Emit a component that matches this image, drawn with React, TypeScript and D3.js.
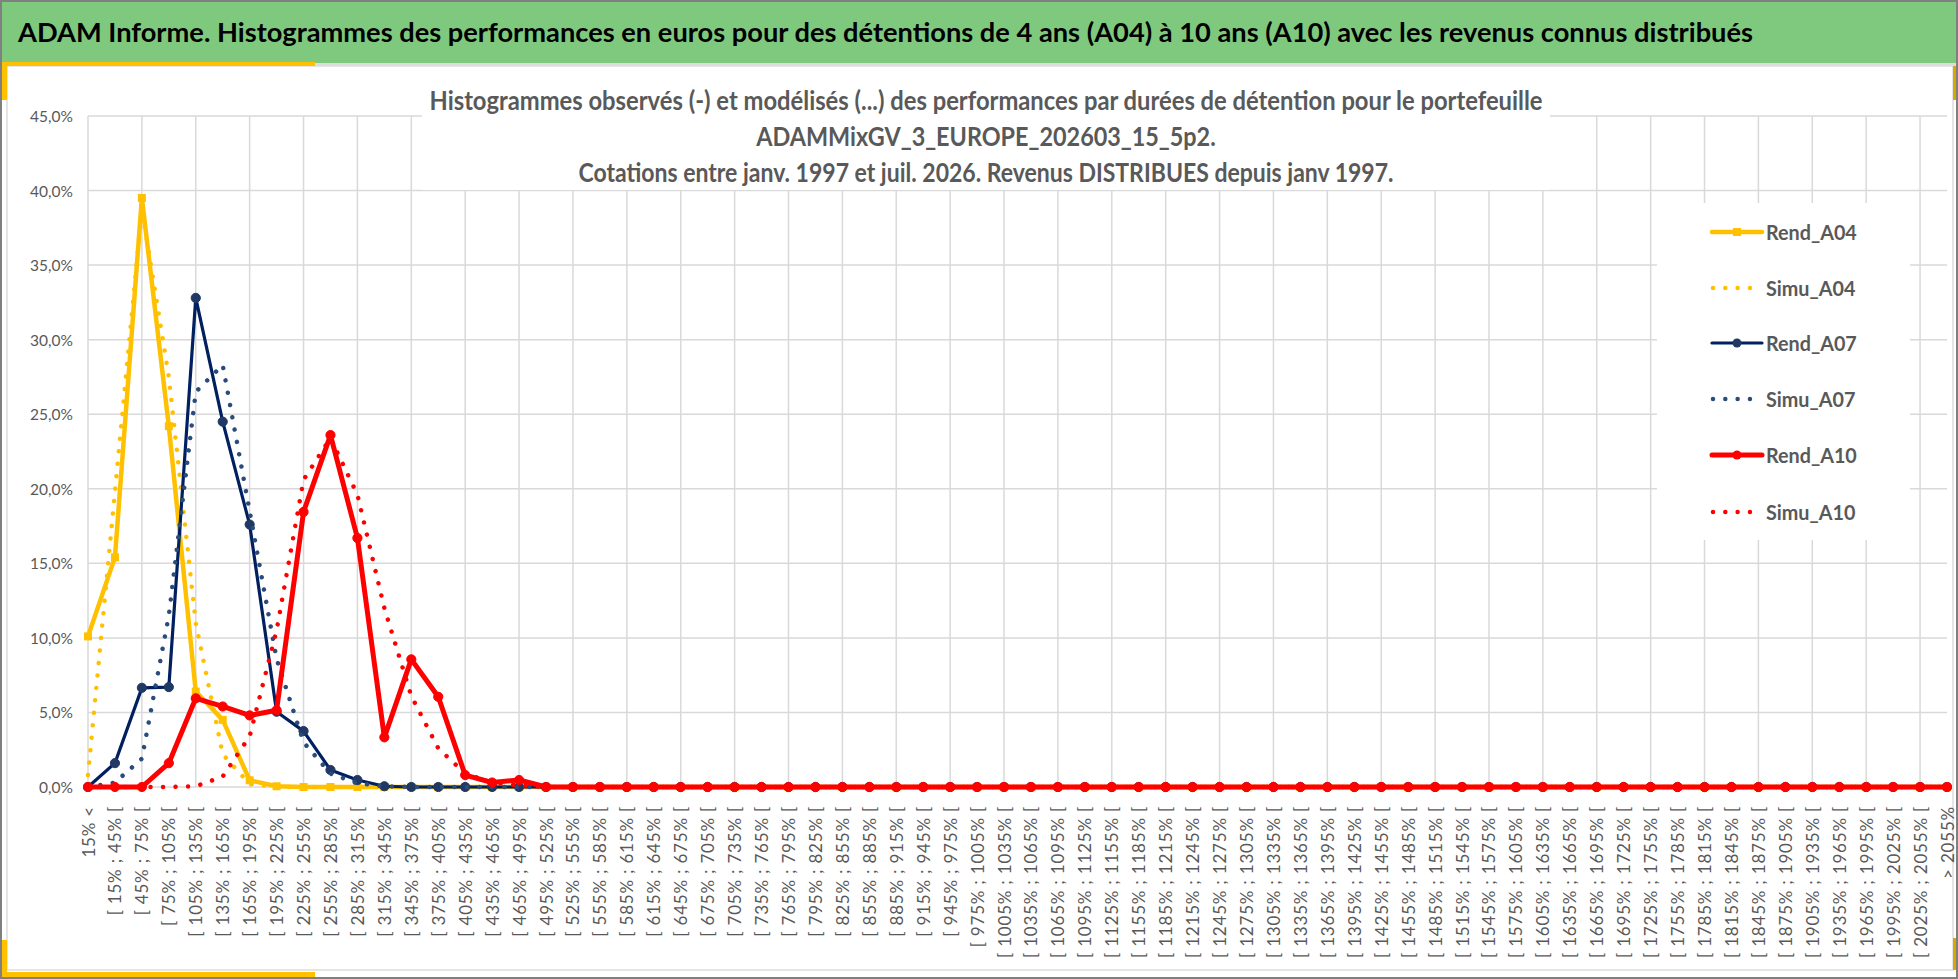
import React from "react";
import * as d3 from "d3";

const categories = [
  "15% <",
  "[ 15% ; 45% [", "[ 45% ; 75% [", "[ 75% ; 105% [", "[ 105% ; 135% [", "[ 135% ; 165% [",
  "[ 165% ; 195% [", "[ 195% ; 225% [", "[ 225% ; 255% [", "[ 255% ; 285% [", "[ 285% ; 315% [",
  "[ 315% ; 345% [", "[ 345% ; 375% [", "[ 375% ; 405% [", "[ 405% ; 435% [", "[ 435% ; 465% [",
  "[ 465% ; 495% [", "[ 495% ; 525% [", "[ 525% ; 555% [", "[ 555% ; 585% [", "[ 585% ; 615% [",
  "[ 615% ; 645% [", "[ 645% ; 675% [", "[ 675% ; 705% [", "[ 705% ; 735% [", "[ 735% ; 765% [",
  "[ 765% ; 795% [", "[ 795% ; 825% [", "[ 825% ; 855% [", "[ 855% ; 885% [", "[ 885% ; 915% [",
  "[ 915% ; 945% [", "[ 945% ; 975% [", "[ 975% ; 1005% [", "[ 1005% ; 1035% [", "[ 1035% ; 1065% [",
  "[ 1065% ; 1095% [", "[ 1095% ; 1125% [", "[ 1125% ; 1155% [", "[ 1155% ; 1185% [", "[ 1185% ; 1215% [",
  "[ 1215% ; 1245% [", "[ 1245% ; 1275% [", "[ 1275% ; 1305% [", "[ 1305% ; 1335% [", "[ 1335% ; 1365% [",
  "[ 1365% ; 1395% [", "[ 1395% ; 1425% [", "[ 1425% ; 1455% [", "[ 1455% ; 1485% [", "[ 1485% ; 1515% [",
  "[ 1515% ; 1545% [", "[ 1545% ; 1575% [", "[ 1575% ; 1605% [", "[ 1605% ; 1635% [", "[ 1635% ; 1665% [",
  "[ 1665% ; 1695% [", "[ 1695% ; 1725% [", "[ 1725% ; 1755% [", "[ 1755% ; 1785% [", "[ 1785% ; 1815% [",
  "[ 1815% ; 1845% [", "[ 1845% ; 1875% [", "[ 1875% ; 1905% [", "[ 1905% ; 1935% [", "[ 1935% ; 1965% [",
  "[ 1965% ; 1995% [", "[ 1995% ; 2025% [", "[ 2025% ; 2055% [",
  "> 2055%",
];

const rendA04 = [
  10.1, 15.4, 39.5, 24.2, 6.4, 4.5, 0.45, 0.05,
  0, 0, 0, 0, 0, 0, 0, 0, 0, 0,
  0, 0, 0, 0, 0, 0, 0, 0, 0, 0,
  0, 0, 0, 0, 0, 0, 0, 0, 0, 0,
  0, 0, 0, 0, 0, 0, 0, 0, 0, 0,
  0, 0, 0, 0, 0, 0, 0, 0, 0, 0,
  0, 0, 0, 0, 0, 0, 0, 0, 0, 0,
  0, 0,
];

const simuA04 = [
  0.8, 19.8, 38.8, 27.5, 11.0, 2.2, 0.2,
  0, 0, 0, 0, 0, 0, 0, 0, 0, 0,
  0, 0, 0, 0, 0, 0, 0, 0, 0, 0,
  0, 0, 0, 0, 0, 0, 0, 0, 0, 0,
  0, 0, 0, 0, 0, 0, 0, 0, 0, 0,
  0, 0, 0, 0, 0, 0, 0, 0, 0, 0,
  0, 0, 0, 0, 0, 0, 0, 0, 0, 0,
  0, 0, 0,
];

const rendA07 = [
  0, 1.6, 6.65, 6.7, 32.8, 24.5, 17.6, 5.05, 3.75, 1.14, 0.47, 0.05,
  0, 0, 0, 0, 0, 0, 0, 0, 0, 0,
  0, 0, 0, 0, 0, 0, 0, 0, 0, 0,
  0, 0, 0, 0, 0, 0, 0, 0, 0, 0,
  0, 0, 0, 0, 0, 0, 0, 0, 0, 0,
  0, 0, 0, 0, 0, 0, 0, 0, 0, 0,
  0, 0, 0, 0, 0, 0, 0, 0,
];

const simuA07 = [
  0, 0.3, 1.9, 11.5, 26.5, 28.3, 18.5, 8.6, 3.0, 0.9, 0.25, 0.05,
  0, 0, 0, 0, 0, 0, 0, 0, 0, 0,
  0, 0, 0, 0, 0, 0, 0, 0, 0, 0,
  0, 0, 0, 0, 0, 0, 0, 0, 0, 0,
  0, 0, 0, 0, 0, 0, 0, 0, 0, 0,
  0, 0, 0, 0, 0, 0, 0, 0, 0, 0,
  0, 0, 0, 0, 0, 0, 0, 0,
];

const rendA10 = [
  0, 0, 0, 1.6, 5.95, 5.4, 4.8, 5.15, 18.45, 23.6, 16.7, 3.33, 8.56, 6.05, 0.8, 0.3, 0.47,
  0, 0, 0, 0, 0, 0, 0, 0, 0, 0,
  0, 0, 0, 0, 0, 0, 0, 0, 0, 0,
  0, 0, 0, 0, 0, 0, 0, 0, 0, 0,
  0, 0, 0, 0, 0, 0, 0, 0, 0, 0,
  0, 0, 0, 0, 0, 0, 0, 0, 0, 0,
  0, 0, 0,
];

const simuA10 = [
  0, 0, 0, 0, 0.05, 0.7, 3.4, 10.5, 20.6, 23.4, 19.6, 12.0, 6.1, 2.6, 0.9, 0.3, 0.1,
  0, 0, 0, 0, 0, 0, 0, 0, 0, 0,
  0, 0, 0, 0, 0, 0, 0, 0, 0, 0,
  0, 0, 0, 0, 0, 0, 0, 0, 0, 0,
  0, 0, 0, 0, 0, 0, 0, 0, 0, 0,
  0, 0, 0, 0, 0, 0, 0, 0, 0, 0,
  0, 0, 0,
];

const yTicks = [0, 5, 10, 15, 20, 25, 30, 35, 40, 45];

const headerTitle =
  "ADAM Informe. Histogrammes des performances en euros pour des détentions de 4 ans (A04) à 10 ans (A10) avec les revenus connus distribués";
const chartTitleLines = [
  "Histogrammes observés (-) et modélisés (...) des performances par durées de détention pour le portefeuille",
  "ADAMMixGV_3_EUROPE_202603_15_5p2.",
  "Cotations  entre janv. 1997 et juil. 2026. Revenus DISTRIBUES depuis janv 1997.",
];

const W = 1958;
const H = 979;
const FONT = "Lato, 'Open Sans', sans-serif";
const GOLD = "#FFC000";
const NAVY = "#002060";
const NAVY_MK = "#203864";
const NAVY_SIM = "#2A4C7C";
const RED = "#FF0000";
const GRID = "#D9D9D9";
const TXT = "#595959";

type Series = {
  name: string;
  values: number[];
  color: string;
  width: number;
  dotted: boolean;
  marker: "square" | "circle" | null;
  markerColor?: string;
};

const series: Series[] = [
  { name: "Rend_A04", values: rendA04, color: GOLD, width: 4.5, dotted: false, marker: "square", markerColor: GOLD },
  { name: "Simu_A04", values: simuA04, color: GOLD, width: 4.5, dotted: true, marker: null },
  { name: "Rend_A07", values: rendA07, color: NAVY, width: 3.2, dotted: false, marker: "circle", markerColor: NAVY_MK },
  { name: "Simu_A07", values: simuA07, color: NAVY_SIM, width: 4.5, dotted: true, marker: null },
  { name: "Rend_A10", values: rendA10, color: RED, width: 5, dotted: false, marker: "circle", markerColor: RED },
  { name: "Simu_A10", values: simuA10, color: RED, width: 4.5, dotted: true, marker: null },
];

const TITLE_SX = 0.9;

export default function App() {
  const x = d3.scalePoint<string>().domain(categories).range([88, 1947]);
  const y = d3.scaleLinear().domain([0, 45]).range([787, 116]);

  const line = d3
    .line<number>()
    .x((_, i) => x(categories[i]) as number)
    .y((d) => y(d));

  const fmt = (v: number) => v.toFixed(1).replace(".", ",") + "%";

  const legendRows = [232, 288, 343, 399, 455, 512];

  return (
    <svg
      width={W}
      height={H}
      viewBox={`0 0 ${W} ${H}`}
      style={{ position: "absolute", left: 0, top: 0, display: "block" }}
    >
      {/* frame */}
      <rect x={0} y={0} width={W} height={H} fill="#FFFFFF" />
      <rect x={0} y={0} width={W} height={63} fill="#7FC97F" />
      <rect x={0} y={63} width={W} height={3} fill="#DCDCDC" />
      <rect x={7} y={66} width={1946} height={904} fill="#FFFFFF" stroke="#DDDDDD" strokeWidth={1.5} />
      {/* gold corner accents */}
      <rect x={0} y={62} width={315} height={4} fill={GOLD} />
      <rect x={0} y={62} width={7} height={38} fill={GOLD} />
      <rect x={0} y={940} width={7} height={38} fill={GOLD} />
      <rect x={0} y={972} width={315} height={6} fill={GOLD} />
      <rect x={1953} y={66} width={3} height={34} fill="#D9A800" />
      <rect x={1953} y={938} width={3} height={32} fill="#D9A800" />
      <rect x={1} y={1} width={W - 2} height={H - 2} fill="none" stroke="#808080" strokeWidth={2} />

      {/* header */}
      <text
        x={18}
        y={42}
        fontFamily={FONT}
        fontWeight={700}
        fontSize={27}
        fill="#000000"
        textLength={1735}
        lengthAdjust="spacingAndGlyphs"
      >
        {headerTitle}
      </text>

      {/* gridlines */}
      <g stroke={GRID} strokeWidth={1.5}>
        {yTicks.map((t) => (
          <line key={"h" + t} x1={88} x2={1947} y1={y(t)} y2={y(t)} />
        ))}
        {categories
          .filter((_, i) => i % 2 === 0)
          .map((c) => (
            <line key={"v" + c} x1={x(c)} x2={x(c)} y1={y(45)} y2={y(0)} />
          ))}
      </g>

      {/* title & legend boxes hide the grid */}
      <rect x={422} y={68} width={1128} height={122} fill="#FFFFFF" />
      <rect x={1657} y={203} width={253} height={337} fill="#FFFFFF" />

      {/* chart title */}
      <g transform={`translate(986,0) scale(${TITLE_SX},1)`}>
        {chartTitleLines.map((t, i) => (
          <text
            key={"t" + i}
            x={0}
            y={[110, 146, 182][i]}
            textAnchor="middle"
            fontFamily={FONT}
            fontWeight={700}
            fontSize={26}
            fill={TXT}
            textLength={i === 1 ? undefined : [1113, 0, 815][i] / TITLE_SX}
            lengthAdjust="spacingAndGlyphs"
          >
            {t}
          </text>
        ))}
      </g>

      {/* y axis labels */}
      {yTicks.map((t) => (
        <text
          key={"yl" + t}
          x={73}
          y={y(t)}
          textAnchor="end"
          dominantBaseline="central"
          fontFamily={FONT}
          fontSize={15.5}
          fill={TXT}
        >
          {fmt(t)}
        </text>
      ))}

      {/* x axis labels */}
      {categories.map((c) => (
        <text
          key={"xl" + c}
          transform={`translate(${x(c)},806) rotate(-90)`}
          textAnchor="end"
          dominantBaseline="central"
          fontFamily={FONT}
          fontSize={17}
          letterSpacing={0.8}
          fill={TXT}
        >
          {c}
        </text>
      ))}

      {/* series */}
      {series.map((s) => (
        <g key={s.name}>
          <path
            d={line(s.values) || ""}
            fill="none"
            stroke={s.color}
            strokeWidth={s.width}
            strokeLinejoin="round"
            strokeLinecap="round"
            strokeDasharray={s.dotted ? "0.01 12.5" : undefined}
          />
          {s.marker === "square" &&
            s.values.map((v, i) => (
              <rect
                key={i}
                x={(x(categories[i]) as number) - 4}
                y={y(v) - 4}
                width={8}
                height={8}
                fill={s.markerColor}
              />
            ))}
          {s.marker === "circle" &&
            s.values.map((v, i) => (
              <circle
                key={i}
                cx={x(categories[i]) as number}
                cy={y(v)}
                r={4.6}
                fill={s.markerColor}
                stroke={s.markerColor}
                strokeWidth={1}
              />
            ))}
        </g>
      ))}

      {/* legend */}
      {series.map((s, i) => {
        const cy = legendRows[i];
        return (
          <g key={"lg" + s.name}>
            {s.dotted ? (
              <line
                x1={1713}
                x2={1752}
                y1={cy}
                y2={cy}
                stroke={s.color}
                strokeWidth={4.5}
                strokeLinecap="round"
                strokeDasharray="0.01 12.3"
              />
            ) : (
              <line x1={1712} x2={1762} y1={cy} y2={cy} stroke={s.color} strokeWidth={s.width} strokeLinecap="round" />
            )}
            {s.marker === "square" && <rect x={1733} y={cy - 4} width={8} height={8} fill={s.markerColor} />}
            {s.marker === "circle" && <circle cx={1737} cy={cy} r={4.5} fill={s.markerColor} />}
            <text
              transform={`translate(1766,${cy}) scale(0.92,1)`}
              dominantBaseline="central"
              fontFamily={FONT}
              fontWeight={700}
              fontSize={21.5}
              fill={TXT}
            >
              {s.name}
            </text>
          </g>
        );
      })}
    </svg>
  );
}
